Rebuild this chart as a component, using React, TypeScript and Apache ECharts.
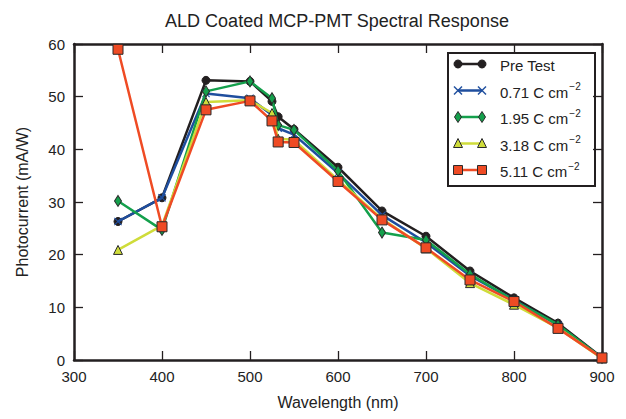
import React, { useEffect, useRef } from "react";
import * as echarts from "echarts";

const wavelengths = [350, 400, 450, 500, 525, 532, 550, 600, 650, 700, 750, 800, 850, 900];
const preTest = [26.3, 30.8, 53.1, 52.9, 49.1, 46.2, 43.8, 36.6, 28.3, 23.5, 16.9, 11.8, 7.0, 0.5];
const dose071 = [26.3, 30.8, 50.6, 49.7, 46.5, 44.0, 42.8, 35.5, 27.5, 22.3, 16.0, 11.4, 6.6, 0.4];
const dose195 = [30.2, 24.7, 51.0, 52.9, 49.7, 44.6, 43.7, 35.9, 24.2, 22.8, 16.3, 11.3, 6.7, 0.4];
const dose318 = [20.9, 25.5, 49.0, 49.3, 46.9, 42.0, 41.8, 34.2, 26.8, 21.2, 14.6, 10.5, 6.1, 0.3];
const dose511 = [59.0, 25.3, 47.5, 49.2, 45.4, 41.4, 41.3, 33.9, 26.6, 21.3, 15.2, 11.1, 6.0, 0.4];

const seriesNames = ["Pre Test", "0.71 C cm", "1.95 C cm", "3.18 C cm", "5.11 C cm"];
const xTicks = [300, 400, 500, 600, 700, 800, 900];
const yTicks = [0, 10, 20, 30, 40, 50, 60];

const COLORS = ["#231f20", "#1f4e9e", "#14a04c", "#cfdc3a", "#ef4b24"];
const EDGE = "#2a2a2a";
const FONT = "'Liberation Sans', Arial, Helvetica, sans-serif";
const XPATH = "path://M0,1 L1,0 L5,4 L9,0 L10,1 L6,5 L10,9 L9,10 L5,6 L1,10 L0,9 L4,5 Z";

function markerGraphic(kind: number, cx: number, cy: number): any {
  const color = COLORS[kind];
  const st = { fill: color, stroke: EDGE, lineWidth: 1 };
  if (kind === 0) return { type: "circle", shape: { cx, cy, r: 4 }, style: { fill: color, stroke: color } };
  if (kind === 1)
    return {
      type: "group",
      children: [
        { type: "line", shape: { x1: cx - 4, y1: cy - 4, x2: cx + 4, y2: cy + 4 }, style: { stroke: color, lineWidth: 1.5 } },
        { type: "line", shape: { x1: cx - 4, y1: cy + 4, x2: cx + 4, y2: cy - 4 }, style: { stroke: color, lineWidth: 1.5 } },
      ],
    };
  if (kind === 2)
    return { type: "polygon", shape: { points: [[cx, cy - 5.5], [cx + 3.5, cy], [cx, cy + 5.5], [cx - 3.5, cy]] }, style: st };
  if (kind === 3)
    return { type: "polygon", shape: { points: [[cx, cy - 5], [cx + 4.5, cy + 4], [cx - 4.5, cy + 4]] }, style: st };
  return { type: "rect", shape: { x: cx - 4.5, y: cy - 4.5, width: 9, height: 9 }, style: st };
}

export default function App() {
  const ref = useRef<HTMLDivElement>(null);
  useEffect(() => {
    if (!ref.current) return;
    const chart = echarts.init(ref.current, null, { renderer: "svg" });
    const all = [preTest, dose071, dose195, dose318, dose511];
    const symbols: any[] = ["circle", XPATH, "diamond", "triangle", "rect"];
    const sizes: any[] = [8, 8, [7, 11], 9, 10];

    const legendItems: any[] = [];
    const rowY = [64, 90.5, 117, 143.5, 170];
    seriesNames.forEach((name, i) => {
      const y = rowY[i];
      legendItems.push({ type: "line", shape: { x1: 458, y1: y, x2: 482, y2: y }, style: { stroke: COLORS[i], lineWidth: 2.5 } });
      legendItems.push(markerGraphic(i, 458, y));
      legendItems.push(markerGraphic(i, 482, y));
      legendItems.push({
        type: "text",
        x: 500,
        y: y,
        style: {
          text: i === 0 ? "{n|" + name + "}" : "{n|" + name + "}{s|−2}",
          verticalAlign: "middle",
          rich: {
            n: { fontSize: 15, fontFamily: FONT, fill: "#222", lineHeight: 18, verticalAlign: "bottom" },
            s: { fontSize: 10, fontFamily: FONT, fill: "#222", lineHeight: 18, verticalAlign: "top", padding: [0, 0, 0, 1] },
          },
        },
      });
    });

    const axisCommon = {
      axisLine: { show: true, onZero: false, lineStyle: { color: "#231f20", width: 2.5 } },
      axisTick: { show: true, inside: true, length: 9, lineStyle: { color: "#231f20", width: 1.3 } },
      splitLine: { show: false },
    };

    chart.setOption({
      animation: false,
      backgroundColor: "#ffffff",
      title: {
        text: "ALD Coated MCP-PMT Spectral Response",
        left: 332,
        textAlign: "center",
        top: 7,
        textStyle: { fontFamily: FONT, fontSize: 18, fontWeight: "normal", color: "#222" },
      },
      grid: { left: 74, right: 24, top: 44, bottom: 59 },
      xAxis: [
        {
          type: "value",
          min: 300,
          max: 900,
          interval: 100,
          position: "bottom",
          name: "Wavelength (nm)",
          nameLocation: "middle",
          nameGap: 34,
          nameTextStyle: { fontFamily: FONT, fontSize: 16, color: "#222" },
          axisLabel: {
            margin: 9,
            fontFamily: FONT,
            fontSize: 15,
            color: "#222",
            formatter: (v: number) => (xTicks.includes(v) ? String(v) : ""),
          },
          ...axisCommon,
        },
        { type: "value", min: 300, max: 900, interval: 100, position: "top", axisLabel: { show: false }, ...axisCommon },
      ],
      yAxis: [
        {
          type: "value",
          min: 0,
          max: 60,
          interval: 10,
          position: "left",
          name: "Photocurrent (mA/W)",
          nameLocation: "middle",
          nameGap: 44,
          nameTextStyle: { fontFamily: FONT, fontSize: 16, color: "#222" },
          axisLabel: {
            margin: 9,
            fontFamily: FONT,
            fontSize: 15,
            color: "#222",
            formatter: (v: number) => (yTicks.includes(v) ? String(v) : ""),
          },
          ...axisCommon,
        },
        { type: "value", min: 0, max: 60, interval: 10, position: "right", axisLabel: { show: false }, ...axisCommon },
      ],
      series: all.map((vals, i) => ({
        name: seriesNames[i],
        type: "line",
        data: wavelengths.map((w, j) => [w, vals[j]]),
        symbol: symbols[i],
        symbolSize: sizes[i],
        showAllSymbol: true,
        lineStyle: { color: COLORS[i], width: 2.5 },
        itemStyle: {
          color: COLORS[i],
          borderColor: i === 0 || i === 1 ? COLORS[i] : EDGE,
          borderWidth: i === 1 ? 0 : 1,
        },
        z: 2 + i,
      })),
      graphic: [
        {
          type: "group",
          z: 100,
          children: [
            { type: "rect", shape: { x: 448, y: 53, width: 147, height: 133 }, style: { fill: "#fff", stroke: "#231f20", lineWidth: 2 } },
            ...legendItems,
          ],
        },
      ],
    });
    return () => chart.dispose();
  }, []);
  return <div ref={ref} style={{ position: "fixed", left: 0, top: 0, width: 626, height: 419 }} />;
}
